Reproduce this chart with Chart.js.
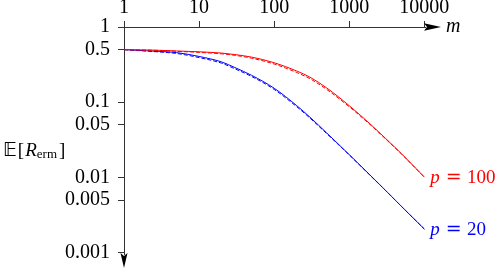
<!DOCTYPE html>
<html><head><meta charset="utf-8">
<script src="https://cdn.jsdelivr.net/npm/chart.js@4/dist/chart.umd.min.js"></script>
<style>html,body{margin:0;padding:0;background:#fff;}canvas{display:block}</style>
</head><body>
<canvas id="c" width="498" height="268"></canvas>
<script>
// ---- data ----
const mValues    = [1, 2, 3, 5, 10, 20, 30, 50, 100, 200, 300, 500, 1000, 2000, 3000, 5000, 10000];
const redSolid   = [0.5, 0.495, 0.49, 0.48, 0.468, 0.45, 0.43, 0.398, 0.335, 0.26, 0.215, 0.155, 0.09, 0.049, 0.0335, 0.0205, 0.0101];
const redDashed  = [0.5, 0.493, 0.487, 0.475, 0.46, 0.44, 0.42, 0.385, 0.322, 0.248, 0.205, 0.148, 0.087, 0.048, 0.033, 0.0203, 0.0101];
const blueSolid  = [0.5, 0.483, 0.473, 0.457, 0.406, 0.343, 0.289, 0.228, 0.1535, 0.090, 0.0632, 0.0391, 0.0201, 0.0102, 0.00683, 0.00409, 0.00206];
const blueDashed = [0.5, 0.478, 0.465, 0.445, 0.392, 0.33, 0.278, 0.22, 0.148, 0.087, 0.0615, 0.0383, 0.0199, 0.0101, 0.0068, 0.00408, 0.00206];
const xTickValues = [1, 10, 100, 1000, 10000];
const xTickLabels = ['1', '10', '100', '1000', '10000'];
const yTickValues = [1, 0.5, 0.1, 0.05, 0.01, 0.005, 0.001];
const yTickLabels = ['1', '0.5', '0.1', '0.05', '0.01', '0.005', '0.001'];
const pValues = ['100', '20'];
const xAxisName = 'm';

const SERIF = "'Liberation Serif', 'DejaVu Serif', serif";
const FS = 20;
const AXIS = '#333';
const RED = 'rgb(255,0,0)';
const BLUE = 'rgb(0,0,255)';

function pts(arr) { return mValues.map((m, i) => ({ x: m, y: arr[i] })); }

const decor = {
  id: 'decor',
  afterDraw(chart) {
    const ctx = chart.ctx;
    const a = chart.chartArea;
    const xs = chart.scales.x, ys = chart.scales.y;
    const x0 = xs.getPixelForValue(1);
    const y0 = ys.getPixelForValue(1);
    ctx.save();
    ctx.fillStyle = '#000';
    // x arrow
    const xr = a.right;
    ctx.beginPath();
    ctx.moveTo(xr + 16, y0);
    ctx.lineTo(xr - 1, y0 - 3.7);
    ctx.lineTo(xr + 2, y0);
    ctx.lineTo(xr - 1, y0 + 3.7);
    ctx.closePath();
    ctx.fill();
    // y arrow
    const yb = a.bottom;
    ctx.beginPath();
    ctx.moveTo(x0, yb + 14);
    ctx.lineTo(x0 - 3.5, yb - 1);
    ctx.lineTo(x0, yb + 2);
    ctx.lineTo(x0 + 3.5, yb - 1);
    ctx.closePath();
    ctx.fill();

    // axis name m
    ctx.textBaseline = 'alphabetic';
    ctx.textAlign = 'left';
    ctx.font = 'italic ' + FS + 'px ' + SERIF;
    ctx.fillText(xAxisName, xr + 21, y0 + 4.5);

    // y title  E[R_erm]
    let tx = 3, tb = 155.5;
    ctx.font = "19px 'DejaVu Sans', 'DejaVu Serif', " + SERIF;
    ctx.fillText('\u{1D53C}', tx, tb);
    tx += ctx.measureText('\u{1D53C}').width + 1;
    ctx.font = '19px ' + SERIF;
    ctx.fillText('[', tx, tb);
    tx += ctx.measureText('[').width + 1;
    ctx.font = 'italic 19px ' + SERIF;
    ctx.fillText('R', tx, tb);
    tx += ctx.measureText('R').width;
    ctx.font = '13px ' + SERIF;
    ctx.fillText('erm', tx, tb + 2);
    tx += ctx.measureText('erm').width + 2;
    ctx.font = '19px ' + SERIF;
    ctx.fillText(']', tx, tb);

    // series labels p = ...
    const colors = [RED, BLUE];
    [0, 2].forEach((di, k) => {
      const meta = chart.getDatasetMeta(di);
      const last = meta.data[meta.data.length - 1];
      const lx = last.x + 6, ly = last.y + 6;
      ctx.fillStyle = colors[k];
      ctx.font = 'italic 19px ' + SERIF;
      ctx.fillText('p', lx, ly);
      ctx.font = "19px 'DejaVu Serif', " + SERIF;
      ctx.fillText('=', lx + 15.5, ly);
      ctx.font = '19px ' + SERIF;
      ctx.fillText(pValues[k], lx + 36.6, ly);
    });
    ctx.restore();
  }
};

const lineDs = (arr, color, dashed) => ({
  data: pts(arr),
  borderColor: color,
  borderWidth: 1,
  borderDash: dashed ? [4, 2] : [],
  pointRadius: 0,
  fill: false,
  cubicInterpolationMode: 'monotone'
});

new Chart(document.getElementById('c'), {
  type: 'line',
  data: {
    datasets: [
      lineDs(redSolid, RED, false),
      lineDs(redDashed, RED, true),
      lineDs(blueSolid, BLUE, false),
      lineDs(blueDashed, BLUE, true)
    ]
  },
  options: {
    responsive: false,
    devicePixelRatio: 1,
    animation: false,
    layout: { autoPadding: false, padding: { left: 0, top: 0, right: 73, bottom: 14 } },
    plugins: { legend: { display: false }, tooltip: { enabled: false } },
    scales: {
      x: {
        type: 'logarithmic',
        position: 'top',
        min: 1,
        max: 10200,
        afterBuildTicks: s => { s.ticks = xTickValues.map(v => ({ value: v })); },
        afterFit: s => { s.height = 27; s.paddingLeft = 0; s.paddingRight = 0; },
        ticks: {
          autoSkip: false,
          maxRotation: 0,
          padding: 1,
          color: '#000',
          font: { family: SERIF, size: FS },
          callback: v => { const i = xTickValues.indexOf(v); return i >= 0 ? xTickLabels[i] : ''; }
        },
        grid: { drawOnChartArea: false, drawTicks: true, tickLength: 6, color: AXIS, tickColor: AXIS },
        border: { display: true, color: AXIS, width: 1 }
      },
      y: {
        type: 'logarithmic',
        position: 'left',
        min: 0.00096,
        max: 1,
        afterBuildTicks: s => { s.ticks = yTickValues.map(v => ({ value: v })); },
        afterFit: s => { s.width = 124; s.paddingTop = 0; s.paddingBottom = 0; },
        ticks: {
          autoSkip: false,
          padding: 8,
          color: '#000',
          font: { family: SERIF, size: FS },
          callback: v => { const i = yTickValues.indexOf(v); return i >= 0 ? yTickLabels[i] : ''; }
        },
        grid: { drawOnChartArea: false, drawTicks: true, tickLength: 6, color: AXIS, tickColor: AXIS },
        border: { display: true, color: AXIS, width: 1 }
      }
    }
  },
  plugins: [decor]
});
</script>
</body></html>
